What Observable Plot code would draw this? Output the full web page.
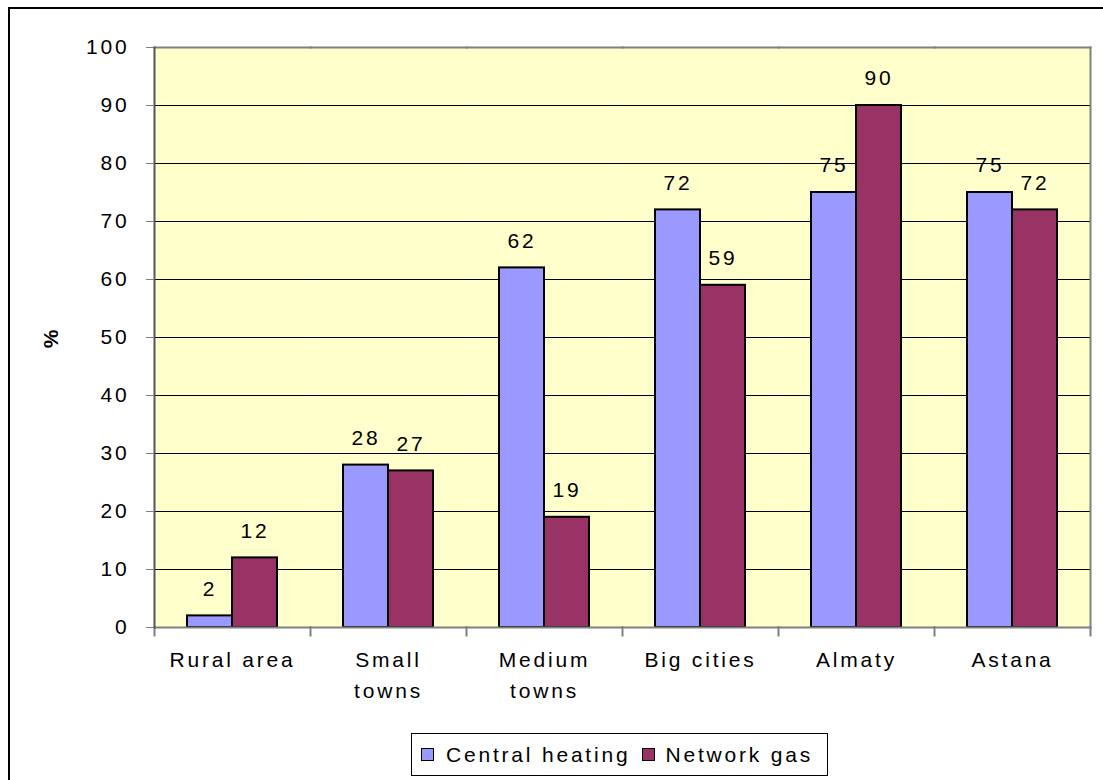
<!DOCTYPE html>
<html>
<head>
<meta charset="utf-8">
<script src="https://cdn.jsdelivr.net/npm/d3@7"></script>
<script src="https://cdn.jsdelivr.net/npm/@observablehq/plot@0.6"></script>
<style>
  html, body { margin: 0; padding: 0; background: #fff; overflow: hidden; }
  #wrap { position: relative; width: 1103px; height: 780px; overflow: hidden; font-family: "Liberation Sans", Arial, sans-serif; }
  #outer { position: absolute; left: 8px; top: 7px; width: 1200px; height: 900px; border: 2px solid #000; box-sizing: border-box; pointer-events: none; }
  #chart svg { display: block; }
  #chart [aria-label="y-axis label"] text { font-weight: bold; }
  #legend { margin-top: 13px; margin-left: 411px; width: 417px; height: 43px; box-sizing: border-box; border: 1px solid #000;
            display: flex; align-items: center; font-size: 21px; letter-spacing: 2.8px; color: #000; }
  .sw { width: 11px; height: 11px; border: 1.5px solid #000; display: inline-block; }
</style>
</head>
<body>
<div id="wrap">
  <div id="chart"></div>
  <div id="legend"></div>
  <div id="outer"></div>
</div>
<script>
const categories = ["Rural area", "Small towns", "Medium towns", "Big cities", "Almaty", "Astana"];
const categoryLabels = ["Rural area", "Small\ntowns", "Medium\ntowns", "Big cities", "Almaty", "Astana"];
const series = ["Central heating", "Network gas"];
const seriesColors = ["#9999FF", "#993366"];
const centralHeating = [2, 28, 62, 72, 75, 75];
const networkGas = [12, 27, 19, 59, 90, 72];
const yTicks = [0, 10, 20, 30, 40, 50, 60, 70, 80, 90, 100];

const data = [];
categories.forEach((c, i) => {
  data.push({category: c, series: series[0], value: centralHeating[i]});
  data.push({category: c, series: series[1], value: networkGas[i]});
});
const labelOf = new Map(categories.map((c, i) => [c, categoryLabels[i]]));

const W = 1103, H = 720, mTop = 47, mBottom = 93;
const plotH = H - mTop - mBottom;
const grey = "#808080";

const chart = Plot.plot({
  width: W,
  height: H,
  marginLeft: 152,
  marginRight: 11,
  marginTop: mTop,
  marginBottom: mBottom,
  style: {fontFamily: "'Liberation Sans', Arial, sans-serif", fontSize: "21px", letterSpacing: "2.8px", color: "#000", background: "transparent", overflow: "visible"},
  fx: {domain: categories, paddingInner: 0, paddingOuter: 0, label: null},
  x: {domain: series, paddingInner: 0, paddingOuter: 0.7, axis: null},
  y: {domain: [0, 100], label: null},
  color: {domain: series, range: seriesColors},
  marks: [
    Plot.frame({fill: "#FFFFCC", stroke: "none"}),
    Plot.ruleY(yTicks.filter(d => d > 0 && d < 100), {stroke: "#000", strokeWidth: 1.2}),
    Plot.frame({anchor: "top", stroke: grey, strokeWidth: 2}),
    Plot.frame({anchor: "right", stroke: grey, strokeWidth: 2, facetAnchor: "right"}),
    Plot.barY(data, {fx: "category", x: "series", y: "value", fill: "series", stroke: "#000", strokeWidth: 2, inset: 0}),
    Plot.frame({anchor: "bottom", stroke: grey, strokeWidth: 2}),
    Plot.frame({anchor: "left", stroke: grey, strokeWidth: 2, insetTop: plotH, insetBottom: -8}),
    Plot.frame({anchor: "right", stroke: grey, strokeWidth: 2, insetTop: plotH, insetBottom: -8, facetAnchor: "right"}),
    Plot.frame({anchor: "left", stroke: "#555", strokeWidth: 2, facetAnchor: "left"}),
    Plot.text(data, {fx: "category", x: "series", y: "value", text: d => String(d.value), dy: -27, lineAnchor: "middle", fill: "#000", fontSize: 21}),
    Plot.axisY({ticks: yTicks, tickSize: 8, tickPadding: 17, stroke: grey, fill: "#000", tickFormat: d => String(d),
                label: "%", labelArrow: "none", labelAnchor: "center", labelOffset: 111}),
    Plot.axisFx({anchor: "bottom", tickSize: 0, tickPadding: 17, lineHeight: 1.48, fill: "#000", tickFormat: c => labelOf.get(c), label: null})
  ]
});
document.getElementById("chart").appendChild(chart);

const legend = document.getElementById("legend");
legend.innerHTML =
  `<span style="width:9px"></span><span class="sw" style="background:${seriesColors[0]}"></span><span style="width:12px"></span><span>${series[0]}</span>` +
  `<span style="width:12px"></span><span class="sw" style="background:${seriesColors[1]}"></span><span style="width:10px"></span><span>${series[1]}</span>`;
</script>
</body>
</html>
